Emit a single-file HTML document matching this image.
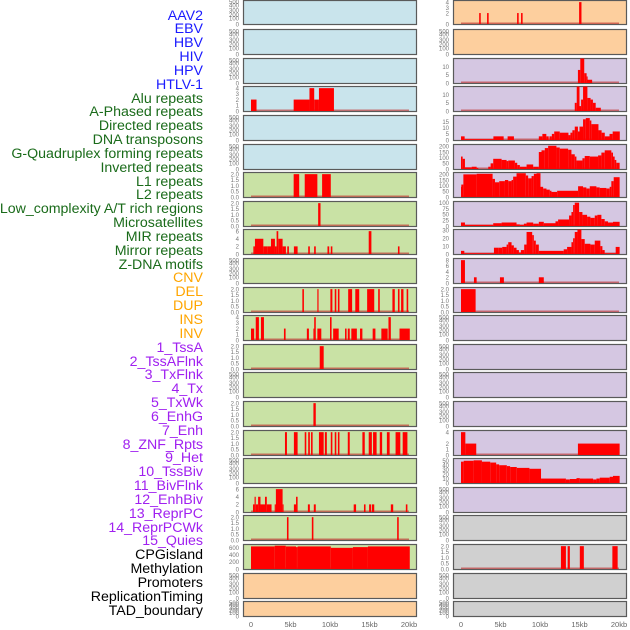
<!DOCTYPE html>
<html><head><meta charset="utf-8"><style>
body{margin:0;width:630px;height:630px;background:#fff;overflow:hidden;font-family:"Liberation Sans",sans-serif}
#labels div{position:absolute;right:427px;font-size:14.2px;line-height:14px;white-space:nowrap}
</style></head><body>
<div id="labels"></div>
<svg id="chart" width="630" height="630" style="position:absolute;left:0;top:0"></svg>
<script>
const trackNames = ["AAV2","EBV","HBV","HIV","HPV","HTLV-1","Alu repeats","A-Phased repeats","Directed repeats","DNA transposons","G-Quadruplex forming repeats","Inverted repeats","L1 repeats","L2 repeats","Low_complexity A/T rich regions","Microsatellites","MIR repeats","Mirror repeats","Z-DNA motifs","CNV","DEL","DUP","INS","INV","1_TssA","2_TssAFlnk","3_TxFlnk","4_Tx","5_TxWk","6_EnhG","7_Enh","8_ZNF_Rpts","9_Het","10_TssBiv","11_BivFlnk","12_EnhBiv","13_ReprPC","14_ReprPCWk","15_Quies","CPGisland","Methylation","Promoters","ReplicationTiming","TAD_boundary"];
const trackGroups = [0,0,0,0,0,0,1,1,1,1,1,1,1,1,1,1,1,1,1,2,2,2,2,2,3,3,3,3,3,3,3,3,3,3,3,3,3,3,3,4,4,4,4,4];
const xTicks = [0,5,10,15,20];
const xTickLabels = ["0","5kb","10kb","15kb","20kb"];
const emptyTicks = [0,100,200,300,400,500];
// bars: [startKb, endKb, value]
const c1r3 = [[0,0.7,2],[5.4,7.4,2],[7.4,8.0,4],[8.0,8.6,2],[8.6,10.5,4]];
const c1r6 = [[5.4,6.1,2],[6.8,8.4,2],[9.0,10.1,2]];
const c1r7 = [[8.5,8.8,2]];
const c1r8 = [[0.3,0.5,2],[0.5,1.56,4],[1.56,2.06,2],[2.06,2.53,2],[2.53,3.03,4],[3.03,3.24,2],[3.24,3.45,6],[3.45,4.0,4],[4.0,4.42,2],[4.59,4.8,2],[5.43,5.9,2],[7.24,7.45,2],[7.99,8.2,2],[9.68,9.9,2],[10.1,10.3,2],[14.9,15.24,6],[18.6,18.8,2]];
const c1r10 = [[6.5,6.7,2],[8.4,8.55,2],[10.05,10.3,2],[10.6,10.8,2],[11.0,11.2,2],[12.3,12.8,2],[13.2,13.7,2],[14.7,15.6,2],[16.1,16.3,2],[17.9,18.2,2],[18.6,18.8,2],[19.0,19.3,2],[19.7,19.9,2]];
const c1r11 = [[0,0.4,2],[0.6,1.0,4],[1.26,1.64,4],[4.17,4.38,2],[7.07,7.33,2],[7.9,8.0,2],[8.0,8.2,4],[8.4,8.9,2],[10.0,10.2,4],[10.4,11.1,2],[11.9,12.1,2],[12.25,12.5,2],[12.7,13.4,2],[13.8,14.1,2],[15.4,15.75,2],[16.5,17.3,2],[17.4,17.7,4],[18.8,20.1,2]];
const c1r12 = [[8.7,9.2,2]];
const c1r14 = [[7.9,8.2,2]];
const c1r15 = [[4.3,4.55,2],[5.43,5.9,2],[6.8,7.0,2],[7.24,7.45,2],[7.6,7.8,2],[8.6,9.2,2],[9.35,9.6,2],[10.1,10.3,2],[10.6,10.8,2],[11.0,11.2,2],[12.25,12.5,2],[14.1,14.4,2],[14.9,15.3,2],[15.45,15.9,2],[16.3,16.6,2],[17.2,17.55,2],[18.3,18.9,2],[19.2,19.8,2]];
const c1r17 = [[0.25,0.45,2],[0.45,0.6,4],[0.6,0.9,2],[0.9,1.2,4],[1.2,1.77,2],[1.77,2.0,4],[2.0,2.6,2],[3.0,3.15,2],[3.15,4.0,6],[4.0,4.1,2],[5.43,5.7,2],[5.7,5.9,4],[7.2,7.45,2],[7.95,8.2,2],[13.0,13.3,2],[14.3,14.5,2],[14.95,15.2,2],[15.3,15.6,2],[17.7,18.0,2],[19.6,19.8,2]];
const c1r18 = [[4.55,4.75,2],[7.7,7.9,2],[18.5,18.7,2]];
const c1r19 = [[0,3.0,640],[3.0,4.4,660],[4.4,5.7,640],[5.7,5.9,620],[5.9,10.1,640],[10.1,12.9,600],[12.9,14.8,620],[14.8,20.1,640]];
const c2r0 = [[2.3,2.5,2],[3.3,3.5,2],[7.1,7.3,2],[7.6,7.8,2],[14.95,15.25,4]];
const c2r2 = [[14.8,15.1,8],[15.1,15.6,15],[15.6,15.9,6],[15.9,16.0,4],[16.0,16.6,2]];
const c2r3 = [[14.4,14.65,5],[14.65,15.0,15],[15.0,15.2,3],[15.2,15.45,7],[15.45,16.0,15],[16.0,16.4,8],[16.4,16.7,7],[16.7,17.05,5],[17.05,17.7,2]];
const c2r4 = [[0,0.46,3],[0.46,4.1,0.7],[4.1,5.4,3],[5.9,6.7,3],[9.85,10.3,3],[10.3,10.8,5],[10.8,11.1,3],[11.2,11.5,3],[11.5,11.8,5],[11.8,12.5,7],[12.5,13.6,6],[13.6,13.85,4],[13.85,14.1,6],[14.1,14.4,8],[14.4,14.8,11],[14.8,15.0,7],[15.0,15.45,11],[15.45,15.8,17],[15.8,16.3,18],[16.3,16.5,16],[16.5,17.4,13],[17.4,17.8,8],[17.8,18.2,6],[18.2,18.8,3],[18.8,19.2,5],[19.2,20.1,7]];
const c2r5 = [[0,0.21,110],[0.21,0.5,90],[0.5,1.35,15],[1.35,1.98,20],[1.98,2.19,10],[3.45,3.75,20],[3.75,4.08,50],[4.08,5.14,90],[5.14,5.77,80],[5.77,5.98,70],[5.98,6.82,75],[6.82,7.12,55],[7.12,7.45,35],[7.45,8.3,20],[8.3,9.14,40],[9.14,9.85,20],[9.85,10.19,150],[10.19,10.61,165],[10.61,11.03,185],[11.03,12.08,205],[12.08,12.5,190],[12.5,13.56,180],[13.56,13.98,170],[13.98,14.4,130],[14.4,14.61,110],[14.61,15.37,75],[15.37,15.66,95],[15.66,16.3,115],[16.3,17.35,110],[17.35,17.77,120],[17.77,18.19,145],[18.19,19.03,165],[19.03,19.24,145],[19.24,19.45,110],[19.45,19.66,80],[19.66,20.08,55]];
const c2r6 = [[0,0.04,90],[0.04,0.3,110],[0.3,1.98,200],[1.98,4.0,205],[4.0,4.3,160],[4.3,4.84,130],[4.84,5.56,140],[5.56,5.98,150],[5.98,6.4,140],[6.4,6.6,150],[6.6,7.03,180],[7.03,8.2,210],[8.2,8.5,190],[8.5,8.93,165],[8.93,9.22,185],[9.22,9.56,205],[9.56,10.06,210],[10.06,10.4,90],[10.4,10.82,75],[10.82,11.24,65],[11.24,11.45,55],[11.45,12.17,45],[12.17,14.82,55],[14.82,15.45,95],[15.45,15.87,85],[15.87,16.3,75],[16.3,17.14,95],[17.14,17.56,85],[17.56,18.4,80],[18.4,18.82,75],[18.82,19.03,90],[19.03,19.33,140],[19.33,20.08,175]];
const c2r7 = [[0,0.5,15],[0.5,4.08,5],[4.08,5.14,12],[5.14,7.03,15],[7.03,7.45,7],[7.45,7.96,5],[7.96,8.3,10],[8.3,9.14,15],[9.14,9.85,10],[9.85,10.48,18],[10.48,11.96,12],[11.96,12.29,20],[12.29,13.68,28],[13.68,13.98,45],[13.98,14.19,60],[14.19,14.4,90],[14.4,14.95,100],[14.95,15.37,60],[15.37,15.96,48],[15.96,16.38,40],[16.38,16.93,35],[16.93,17.26,45],[17.26,17.77,48],[17.77,18.19,30],[18.19,18.61,20],[18.61,19.24,15],[19.24,20.08,18]];
const c2r8 = [[0,0.42,4],[0.42,4.17,1],[4.17,4.72,8],[4.72,5.22,8],[5.22,5.77,9],[5.77,5.98,12],[5.98,6.4,15],[6.4,6.69,11],[6.69,7.03,8],[7.03,7.33,5],[7.33,7.58,2],[7.58,8.0,5],[8.0,8.3,12],[8.3,9.01,28],[9.01,9.22,24],[9.22,9.47,17],[9.47,9.85,12],[9.85,13.0,4],[13.0,13.43,6],[13.43,13.98,9],[13.98,14.19,15],[14.19,14.4,20],[14.4,14.74,28],[14.74,15.24,31],[15.24,15.66,19],[15.66,16.38,13],[16.38,16.93,12],[16.93,17.64,17],[17.64,17.9,10],[17.9,18.19,5],[18.19,19.58,1],[19.58,20.08,9]];
const c2r9 = [[0,0.5,8],[1.64,1.98,2],[4.93,5.43,2],[9.85,10.48,2]];
const c2r10 = [[0,1.85,2]];
const c2r15 = [[0,0.55,4],[0.55,1.93,2],[14.8,20.08,2]];
const c2r16 = [[0,0.34,48],[0.34,1.6,50],[1.6,2.65,51],[2.65,3.7,48],[3.7,4.45,46],[4.45,4.83,42],[4.83,5.8,40],[5.8,6.22,38],[6.22,7.06,36],[7.06,8.66,34],[8.66,10.13,32],[10.13,13.28,10],[13.28,13.78,8],[13.78,14.62,9],[14.62,15.04,11],[15.04,16.72,10],[16.72,17.14,8],[17.14,17.56,10],[17.56,18.82,12],[18.82,19.24,14],[19.24,20.08,16]];
const c2r19 = [[12.65,13.28,2],[13.5,13.78,2],[15.04,15.55,2],[19.16,19.83,2]];

const BG = {b:"#c9e4ec",g:"#c9e2a5",o:"#fdcf9e",p:"#d5c7e2",k:"#d0d0d0"};
const col1Bg = "bbbbbbggggggggggggggoooo".split("");
const col2Bg = "ooppppppppppppppppkkkkkk".split("");
const panels = [
 {c:0,r:3,bars:c1r3,ymax:4.2,ticks:[0,1,2,3,4]},
 {c:0,r:6,bars:c1r6,ymax:2.1,ticks:[0,0.5,1,1.5,2],dec:1},
 {c:0,r:7,bars:c1r7,ymax:2.1,ticks:[0,0.5,1,1.5,2],dec:1},
 {c:0,r:8,bars:c1r8,ymax:6.3,ticks:[0,2,4,6]},
 {c:0,r:10,bars:c1r10,ymax:2.1,ticks:[0,0.5,1,1.5,2],dec:1},
 {c:0,r:11,bars:c1r11,ymax:4.2,ticks:[0,1,2,3,4]},
 {c:0,r:12,bars:c1r12,ymax:2.1,ticks:[0,0.5,1,1.5,2],dec:1},
 {c:0,r:14,bars:c1r14,ymax:2.1,ticks:[0,0.5,1,1.5,2],dec:1},
 {c:0,r:15,bars:c1r15,ymax:2.1,ticks:[0,0.5,1,1.5,2],dec:1},
 {c:0,r:17,bars:c1r17,ymax:6.3,ticks:[0,2,4,6]},
 {c:0,r:18,bars:c1r18,ymax:2.1,ticks:[0,0.5,1,1.5,2],dec:1},
 {c:0,r:19,bars:c1r19,ymax:680,ticks:[0,200,400,600]},
 {c:1,r:0,bars:c2r0,ymax:4.2,ticks:[0,2,3,4]},
 {c:1,r:2,bars:c2r2,ymax:14.7,ticks:[0,5,10]},
 {c:1,r:3,bars:c2r3,ymax:14.7,ticks:[0,5,10]},
 {c:1,r:4,bars:c2r4,ymax:19.7,ticks:[0,5,10,15]},
 {c:1,r:5,bars:c2r5,ymax:212,ticks:[0,50,100,150,200]},
 {c:1,r:6,bars:c2r6,ymax:212,ticks:[0,50,100,150,200]},
 {c:1,r:7,bars:c2r7,ymax:103,ticks:[0,25,50,75,100]},
 {c:1,r:8,bars:c2r8,ymax:30.5,ticks:[0,10,20,30]},
 {c:1,r:9,bars:c2r9,ymax:8.4,ticks:[0,2,4,6,8]},
 {c:1,r:10,bars:c2r10,ymax:2.1,ticks:[0,0.5,1,1.5,2],dec:1},
 {c:1,r:15,bars:c2r15,ymax:4.2,ticks:[0,1,2,4]},
 {c:1,r:16,bars:c2r16,ymax:54,ticks:[0,10,20,30,40,50]},
 {c:1,r:19,bars:c2r19,ymax:2.1,ticks:[0,0.5,1,1.5,2],dec:1}
];
const emptyFrac = [1,0.75,0.6,0.41,0.18,0.04];

const NS="http://www.w3.org/2000/svg";
const svg=document.getElementById('chart');
const colX=[243,453], PW=173;
function xScale(c,kb){return colX[c]+8+kb*7.9;}
function rowTop(r){return r===0?0:Math.round(0.5+28.6*r);}
function rowH(r){return r===0?24:(r===21?15:25);}
function mk(tag,attrs){const e=document.createElementNS(NS,tag);for(const k in attrs)e.setAttribute(k,attrs[k]);svg.appendChild(e);return e;}

const colors=["#1a1aff","#1a6b1a","#ffa500","#a020f0","#000"];
const lab=document.getElementById('labels');
trackNames.forEach((n,i)=>{const d=document.createElement('div');d.textContent=n;d.style.top=(15+i*13.84-6.5)+'px';d.style.color=colors[trackGroups[i]];


lab.appendChild(d);});

const byKey={};panels.forEach(p=>byKey[p.c+'-'+p.r]=p);
for(let c=0;c<2;c++){for(let r=0;r<22;r++){
 const t=rowTop(r),h=rowH(r),x0=colX[c];
 const bg=BG[(c===0?col1Bg:col2Bg)[r]];
 const rect=mk('rect',{x:x0+0.5,y:t+0.5,width:PW,height:h,fill:bg,stroke:'#5a5a5a','stroke-width':1.2});
 
 
 const p=byKey[c+'-'+r];
 const bot=t+h, inner=h-1;
 const tl=x0-4;
 if(p){
  const ys=v=>bot-v/p.ymax*inner;
  p.ticks.forEach(v=>{const tx=mk('text',{x:tl,y:ys(v)+2.3,'font-size':6,fill:'#777','text-anchor':'end'});tx.textContent=p.dec?v.toFixed(1):String(v);
   
   });
  const base=mk('rect',{x:xScale(c,0),y:bot-1.5,width:xScale(c,20)-xScale(c,0),height:1.5,fill:'rgba(190,40,40,0.6)'});
  
  
  p.bars.forEach(b=>{const x1=xScale(c,b[0]),x2=xScale(c,b[1]);const y=ys(b[2]);
   const br=mk('rect',{x:x1,y:y,width:Math.max(x2-x1,1),height:bot-y,fill:'#ff0000'});
   
   });
 } else {
  emptyTicks.forEach((v,i)=>{const tx=mk('text',{x:tl,y:t+1+emptyFrac[i]*(h-1)+2.3,'font-size':6,fill:'#777','text-anchor':'end'});tx.textContent=String(v);
   
   });
 }
}
 xTicks.forEach((v,i)=>{const tx=mk('text',{x:xScale(c,v),y:627,'font-size':7.5,fill:'#666','text-anchor':'middle'});tx.textContent=xTickLabels[i];
  
  });
}
</script>
</body></html>
